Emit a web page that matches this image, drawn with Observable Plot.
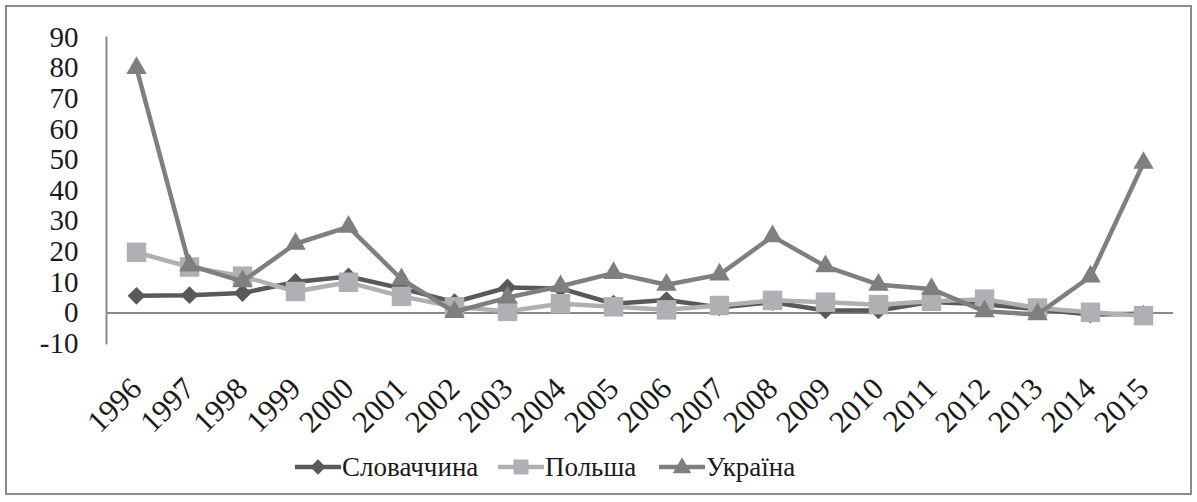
<!DOCTYPE html>
<html>
<head>
<meta charset="utf-8">
<script src="https://cdn.jsdelivr.net/npm/d3@7"></script>
<script src="https://cdn.jsdelivr.net/npm/@observablehq/plot@0.6"></script>
<style>
  body { margin: 0; background: #fff; }
  #wrap { position: relative; width: 1197px; height: 502px; font-family: "Liberation Serif", "Times New Roman", "DejaVu Serif", serif; color: #1a1a1a; }
  #border { position: absolute; left: 5px; top: 5px; width: 1187px; height: 490px; border: 2px solid #8a8a8a; box-sizing: border-box; }
  #chart { position: absolute; left: 0; top: 0; }
  .item { position: absolute; top: 451px; display: flex; align-items: center; font-size: 27px; line-height: 32px; white-space: nowrap; }
  .item svg { display: block; margin-right: 1px; }
</style>
</head>
<body>
<div id="wrap">
  <div id="border"></div>
  <div id="chart"></div>
  <div id="legend"></div>
</div>
<script>
const years = ["1996","1997","1998","1999","2000","2001","2002","2003","2004","2005","2006","2007","2008","2009","2010","2011","2012","2013","2014","2015"];
const slovakia = [5.6, 5.8, 6.5, 10.1, 11.9, 8, 3.5, 8.3, 8, 3, 4.2, 1.8, 3.5, 0.8, 0.8, 3.6, 2.8, 1.2, -0.5, -0.3];
const poland   = [19.8, 15, 12, 7, 10, 5.4, 2, 0.5, 3, 2, 1, 2.4, 4.1, 3.5, 2.7, 3.8, 4.5, 1.6, 0.2, -0.9];
const ukraine  = [80, 15.5, 10.3, 22.6, 28.1, 11, 0.3, 5, 8.7, 13, 9.2, 12.5, 25, 15.2, 9.2, 7.8, 0.5, -0.5, 11.9, 49];
const seriesNames = ["Словаччина", "Польша", "Україна"];
const seriesColors = ["#595959", "#b0b0b4", "#7f7f7f"];
const seriesSymbols = ["diamond2", "square", "triangle"];
const seriesR = [8, 11, 7.6];
const yTicks = [-10, 0, 10, 20, 30, 40, 50, 60, 70, 80, 90];

const seriesValues = [slovakia, poland, ukraine];
const font = '"Liberation Serif", "Times New Roman", "DejaVu Serif", serif';
const axisColor = "#8a8a8a";

const marks = [
  Plot.ruleY([0], {stroke: axisColor, strokeWidth: 2}),
  Plot.frame({anchor: "left", stroke: axisColor, strokeWidth: 2}),
  Plot.axisY({ticks: yTicks, tickSize: 0, tickPadding: 28, fontSize: 29, fill: "#1a1a1a", tickFormat: d => d}),
  Plot.axisX({tickRotate: -45, tickSize: 0, tickPadding: 40, fontSize: 31, fill: "#1a1a1a"})
];
seriesValues.forEach((vals, k) => {
  const rows = years.map((yr, i) => ({year: yr, value: vals[i]}));
  marks.push(Plot.line(rows, {x: "year", y: "value", stroke: seriesColors[k], strokeWidth: 4.5, strokeLinejoin: "round"}));
  marks.push(Plot.dot(rows, {x: "year", y: "value", symbol: () => seriesSymbols[k], fill: seriesColors[k], r: seriesR[k], stroke: "none"}));
});

const chart = Plot.plot({
  width: 1197,
  height: 420,
  marginTop: 37,
  marginBottom: 77,
  marginLeft: 106,
  marginRight: 24,
  style: {fontFamily: font, background: "transparent", overflow: "visible"},
  x: {type: "point", domain: years, padding: 0.5, label: null},
  y: {domain: [-10, 90], label: null},
  symbol: {domain: seriesSymbols, range: seriesSymbols},
  marks
});
document.getElementById("chart").appendChild(chart);

// legend
const legend = document.getElementById("legend");
const lefts = [295, 498, 659];
seriesNames.forEach((name, k) => {
  const div = document.createElement("div");
  div.className = "item";
  div.style.left = lefts[k] + "px";
  const sym = d3.symbol(k === 0 ? d3.symbolDiamond2 : k === 1 ? d3.symbolSquare : d3.symbolTriangle, k === 0 ? 150 : k === 1 ? 225 : 150)();
  div.innerHTML = `<svg width="46" height="32"><line x1="0" x2="46" y1="16" y2="16" stroke="${seriesColors[k]}" stroke-width="4.5"/><path d="${sym}" transform="translate(23,${k === 2 ? 17 : 16})" fill="${seriesColors[k]}"/></svg><span>${name}</span>`;
  legend.appendChild(div);
});
</script>
</body>
</html>
